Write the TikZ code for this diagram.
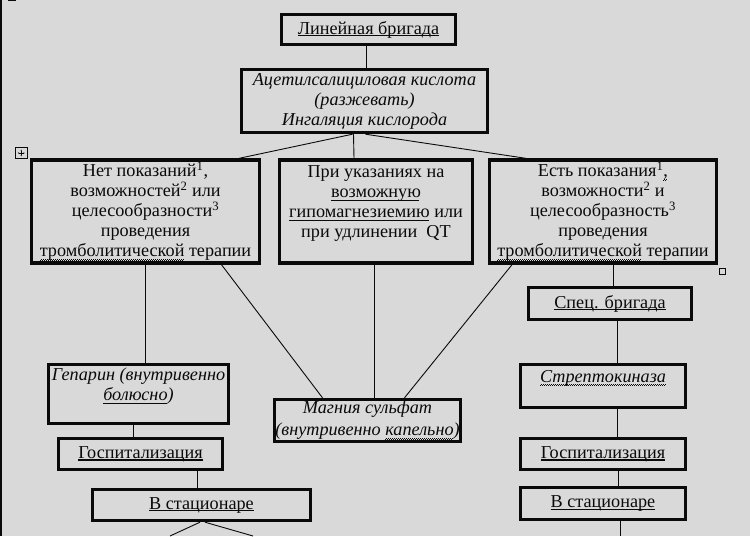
\documentclass[tikz,border=0pt]{standalone}
\usepackage{fontspec}
\setmainfont{Liberation Serif}
\usetikzlibrary{calc,arrows.meta}
\definecolor{bg}{HTML}{D9D9D9}
\definecolor{ink}{HTML}{0A0A0A}
\newcommand{\ulin}[1]{\setbox0=\hbox{#1}\rlap{\copy0}\rule[-2.4pt]{\wd0}{1.2pt}}
\newcommand{\sqw}[1]{\setbox0=\hbox{#1}\rlap{\copy0}\raisebox{-3.6pt}{\hbox to \wd0{\leaders\hbox to 2pt{\rule{1pt}{0.6pt}\rule[0.6pt]{1pt}{0.6pt}}\hfill}}}
\tikzset{
  box/.style={draw=ink, line width=3.4pt, inner sep=0pt, align=center, text=ink,
    font=\fontsize{18.2}{20}\selectfont},
  ibox/.style={box, font=\fontsize{18.2}{20}\selectfont\itshape},
  conn/.style={draw=ink, line width=0.9pt},
}
\begin{document}
\begin{tikzpicture}[x=1pt,y=-1pt]
\fill[bg] (0,0) rectangle (750,536);
\useasboundingbox (0,0) rectangle (750,536);
% Word artefacts
\fill[ink] (0,0) rectangle (1.8,536);
\fill[ink] (8,0) rectangle (16,1.2);
\draw[ink, line width=0.7pt] (15.5,147.5) rectangle (27,158.5);
\draw[ink, line width=0.6pt, -{Latex[length=1.5pt]}] (21.2,153) -- (21.2,149.3);
\draw[ink, line width=0.6pt, -{Latex[length=1.5pt]}] (21.2,153) -- (21.2,156.7);
\draw[ink, line width=0.6pt, -{Latex[length=1.5pt]}] (21.2,153) -- (17.5,153);
\draw[ink, line width=0.6pt, -{Latex[length=1.5pt]}] (21.2,153) -- (25,153);
\draw[ink, line width=0.7pt] (719.5,268.5) rectangle (725.5,274.5);

% boxes
\node[box, minimum width=174pt, minimum height=30pt] (lin) at (368.5,29.5) {\ulin{Линейная бригада}};
\node[ibox, minimum width=246pt, minimum height=63pt] (asa) at (364.5,101) {Ацетилсалициловая кислота\\(разжевать)\\Ингаляция кислорода};
\node[box, minimum width=228pt, minimum height=103pt] (no) at (145.5,211.5) {Нет показаний\textsuperscript{1},\\возможностей\textsuperscript{2} или\\целесообразности\textsuperscript{3}\\проведения\\\sqw{тромболитической} терапии};
\node[box, minimum width=193pt, minimum height=103pt] (mid) at (376,211.5) {При указаниях на\\\sqw{возможную}\\\sqw{гипомагнезиемию} или\\при удлинении\ \ QT\\\mbox{}};
\node[box, minimum width=227pt, minimum height=103pt] (yes) at (603,211.5) {Есть показания\textsuperscript{1}\sqw{,}\\возможности\textsuperscript{2} и\\целесообразность\textsuperscript{3}\\проведения\\\sqw{тромболитической} терапии};

\node[ibox, minimum width=180pt, minimum height=59pt] (hep) at (138.5,394) {Гепарин (внутривенно\\\sqw{болюсно})\\\mbox{}};
\node[box, minimum width=164pt, minimum height=31pt] (gl) at (140.5,454) {\ulin{Госпитализация}};
\node[box, minimum width=218pt, minimum height=31pt] (cl) at (201.5,505) {\ulin{В стационаре}};

\node[ibox, minimum width=186pt, minimum height=42pt, font=\fontsize{18.2}{22}\selectfont\itshape] (mg) at (367.5,420.5) {Магния сульфат\\(внутривенно \sqw{капельно})};

\node[box, minimum width=163pt, minimum height=32pt] (sp) at (610,303.5) {\ulin{Спец. бригада}};
\node[ibox, minimum width=165pt, minimum height=43pt] (st) at (603,386) {\sqw{Стрептокиназа}\\\mbox{}};
\node[box, minimum width=165pt, minimum height=31pt] (gr) at (603,454) {\ulin{Госпитализация}};
\node[box, minimum width=165pt, minimum height=32pt] (cr) at (603,503.5) {\ulin{В стационаре}};

% free ends
\coordinate (e1) at (170,536);
\coordinate (e2) at (253,536);
\coordinate (e3) at (620,536);

% connectors
\draw[conn] ([xshift=-2.5pt]lin.south) -- ([xshift=-2.5pt]lin.south |- asa.north);
\draw[conn] ([xshift=-11pt]asa.south) -- ([xshift=-22pt]mid.north);
\draw[conn] ([xshift=-12pt]asa.south) -- ([xshift=-22pt]no.north east);
\draw[conn] ([xshift=1pt]asa.south) -- ([xshift=38pt]yes.north west);
\draw[conn] (no.south) -- (no.south |- hep.north);
\draw[conn] ([xshift=76pt]no.south) -- ([xshift=-45pt]mg.north);
\draw[conn] ([xshift=-2pt]mid.south) -- ([xshift=-2pt]mid.south |- mg.north);
\draw[conn] ([xshift=-91pt]yes.south) -- ([xshift=37pt]mg.north);
\draw[conn] ([xshift=10pt]yes.south) -- ([xshift=10pt]yes.south |- sp.north);
\draw[conn] ([xshift=7pt]sp.south) -- ([xshift=7pt]sp.south |- st.north);
\draw[conn] ([xshift=14pt]st.south) -- ([xshift=14pt]st.south |- gr.north);
\draw[conn] ([xshift=15pt]gr.south) -- ([xshift=15pt]gr.south |- cr.north);
\draw[conn] ([xshift=17pt]cr.south) -- (e3);
\draw[conn] ([xshift=-5.5pt]hep.south) -- ([xshift=-5.5pt]hep.south |- gl.north);
\draw[conn] ([xshift=56.5pt]gl.south) -- ([xshift=56.5pt]gl.south |- cl.north);
\draw[conn] ([xshift=-1.5pt]cl.south) -- (e1);
\draw[conn] ([xshift=3.5pt]cl.south) -- (e2);
\end{tikzpicture}
\end{document}
